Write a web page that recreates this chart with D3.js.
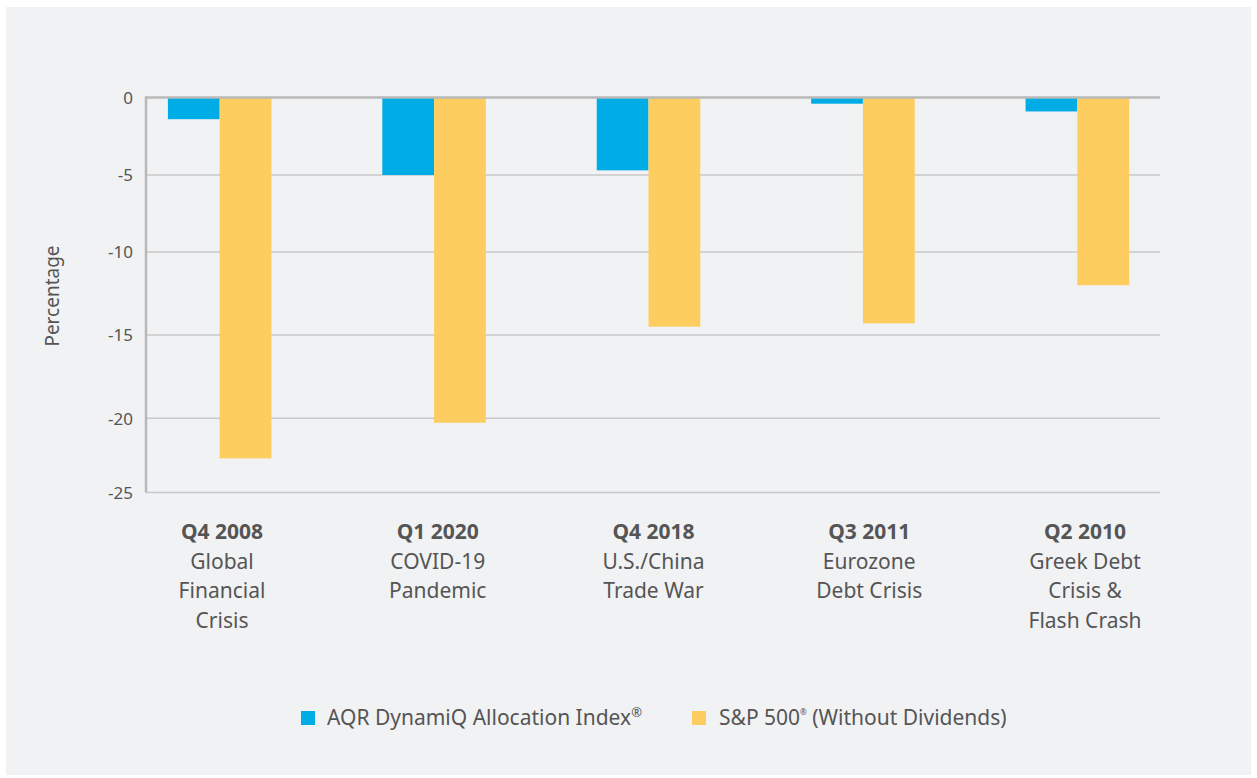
<!DOCTYPE html>
<html>
<head>
<meta charset="utf-8">
<script src="https://cdn.jsdelivr.net/npm/d3@7"></script>
<style>
    body { margin: 0; background: #fff; }
    svg { display: block; }
    text { font-family: "Noto Sans", sans-serif; fill: #555; }
</style>
</head>
<body>
<svg id="chart" width="1257" height="778"></svg>
<script>
const periods = ["Q4 2008", "Q1 2020", "Q4 2018", "Q3 2011", "Q2 2010"];
const events = [
    ["Global", "Financial", "Crisis"],
    ["COVID-19", "Pandemic"],
    ["U.S./China", "Trade War"],
    ["Eurozone", "Debt Crisis"],
    ["Greek Debt", "Crisis &", "Flash Crash"]
];
const aqrValues = [-1.4, -5.0, -4.7, -0.4, -0.9];
const spxValues = [-22.7, -20.3, -14.5, -14.3, -12.0];
const yTicks = [0, -5, -10, -15, -20, -25];
const seriesKeys = ["aqr", "spx"];
const seriesColors = ["#00ace6", "#fecd60"];

(function() {
    const svg = d3.select("#chart");

    // panel background
    svg.append("rect")
        .attr("x", 6).attr("y", 7)
        .attr("width", 1245).attr("height", 768)
        .attr("fill", "#f1f2f4");

    const left = 146, right = 1160;

    // the gridlines in the source are not evenly spaced, so map tick by tick
    const y = d3.scaleLinear()
        .domain(yTicks)
        .range([97.5, 175, 252, 335, 418.3, 492.5]);

    const x0 = d3.scaleBand()
        .domain(periods)
        .range([left, right])
        .paddingInner(0.517)
        .paddingOuter(0.123)
        .align(0.415);

    const x1 = d3.scaleBand()
        .domain(seriesKeys)
        .range([0, x0.bandwidth()]);

    const labelX = d3.scalePoint()
        .domain(periods)
        .range([222, 1085]);

    const color = d3.scaleOrdinal().domain(seriesKeys).range(seriesColors);

    const rows = periods.map((p, i) => ({ period: p, aqr: aqrValues[i], spx: spxValues[i] }));

    // gridlines
    svg.append("g")
        .selectAll("line")
        .data(yTicks.filter(t => t !== 0))
        .join("line")
        .attr("x1", left).attr("x2", right)
        .attr("y1", d => y(d)).attr("y2", d => y(d))
        .attr("stroke", "#c8c8c8")
        .attr("stroke-width", 1.5);

    // tick labels
    svg.append("g")
        .selectAll("text")
        .data(yTicks)
        .join("text")
        .attr("x", 133)
        .attr("y", d => y(d))
        .attr("dy", "0.38em")
        .attr("text-anchor", "end")
        .style("font-size", "17px")
        .text(d => d);

    // bars
    svg.append("g")
        .selectAll("g")
        .data(rows)
        .join("g")
        .attr("transform", d => `translate(${x0(d.period)},0)`)
        .selectAll("rect")
        .data(d => seriesKeys.map(k => ({ key: k, value: d[k] })))
        .join("rect")
        .attr("x", d => x1(d.key))
        .attr("y", y(0))
        .attr("width", x1.bandwidth())
        .attr("height", d => y(d.value) - y(0))
        .attr("fill", d => color(d.key));

    // zero line + left axis line
    svg.append("line")
        .attr("x1", left - 1).attr("x2", right)
        .attr("y1", y(0)).attr("y2", y(0))
        .attr("stroke", "#b9b9b9")
        .attr("stroke-width", 2.5);
    svg.append("line")
        .attr("x1", left).attr("x2", left)
        .attr("y1", y(0) - 1).attr("y2", y(-25))
        .attr("stroke", "#b9b9b9")
        .attr("stroke-width", 2.5);

    // y axis title
    svg.append("text")
        .attr("transform", "translate(59,296) rotate(-90)")
        .attr("text-anchor", "middle")
        .style("font-size", "19px")
        .text("Percentage");

    // category labels
    const cat = svg.append("g")
        .selectAll("text")
        .data(periods)
        .join("text")
        .attr("text-anchor", "middle")
        .attr("x", d => labelX(d))
        .attr("y", 539)
        .style("font-size", "21px");

    cat.append("tspan")
        .attr("x", d => labelX(d))
        .style("font-weight", "bold")
        .text(d => d);

    cat.each(function(d, i) {
        d3.select(this).selectAll("tspan.ev")
            .data(events[i])
            .join("tspan")
            .attr("class", "ev")
            .attr("x", labelX(d))
            .attr("dy", 29.5)
            .text(t => t);
    });

    // legend
    const legend = svg.append("g");
    const items = [
        { key: "aqr", x: 301, textX: 327 },
        { key: "spx", x: 692, textX: 719 }
    ];
    legend.selectAll("rect")
        .data(items)
        .join("rect")
        .attr("x", d => d.x).attr("y", 711)
        .attr("width", 14).attr("height", 14)
        .attr("fill", d => color(d.key));

    const t1 = legend.append("text")
        .attr("x", 327).attr("y", 725)
        .style("font-size", "21px");
    t1.append("tspan").text("AQR DynamiQ Allocation Index");
    t1.append("tspan").attr("dy", -8).style("font-size", "13px").text("®");

    const t2 = legend.append("text")
        .attr("x", 719).attr("y", 725)
        .style("font-size", "21px");
    t2.append("tspan").text("S&P 500");
    t2.append("tspan").attr("dy", -10).style("font-size", "8px").text("®");
    t2.append("tspan").attr("dy", 10).text(" (Without Dividends)");
})();
</script>
</body>
</html>
